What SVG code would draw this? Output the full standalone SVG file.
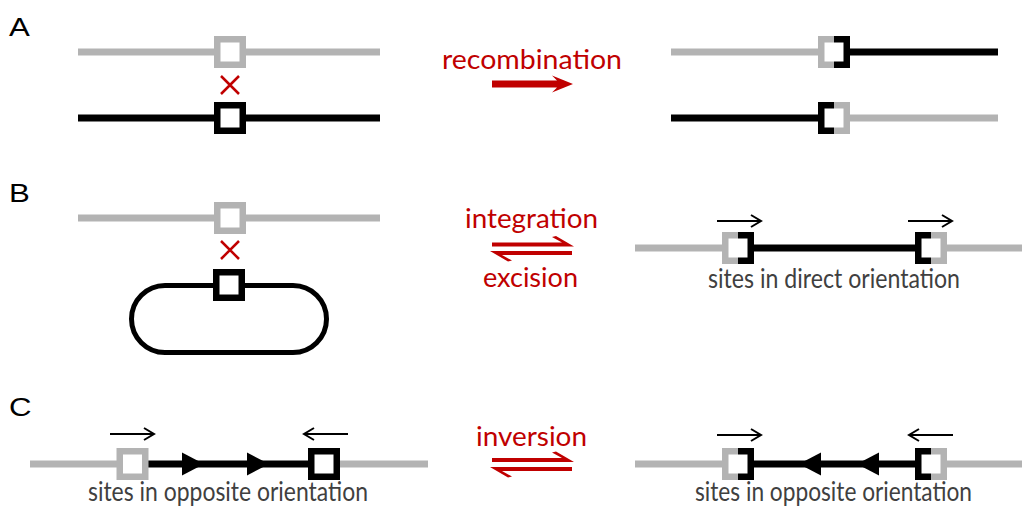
<svg xmlns="http://www.w3.org/2000/svg" width="1022" height="508" viewBox="0 0 1022 508">
<style>
.g{stroke:#b3b3b3;fill:none}
.k{stroke:#000;fill:none}
.ln{stroke-width:7}
.bx{stroke-width:6.5;fill:#fff}
.br{stroke-width:6.5;fill:none;stroke-linejoin:miter;stroke-linecap:butt}
.wf{fill:#fff;stroke:none}
.red{fill:#c00000}
.rt{font-family:Lato,"Open Sans",sans-serif;font-size:27px;fill:#c00000;text-anchor:middle}
.gt{font-family:Lato,"Open Sans",sans-serif;font-size:26px;fill:#404040;text-anchor:middle}
.lab{font-family:"Liberation Sans",Arial,sans-serif;font-size:26px;fill:#000}
.x{stroke:#c00000;stroke-width:2.5;fill:none}
.thin{stroke:#000;stroke-width:2;fill:none;stroke-linecap:butt}
</style>
<!-- Panel labels -->
<text class="lab" transform="translate(9,36) scale(1.2,1)">A</text>
<text class="lab" transform="translate(9,202) scale(1.2,1)">B</text>
<text class="lab" transform="translate(9,416) scale(1.2,1)">C</text>

<!-- Panel A left -->
<g id="A-gray-site">
<line class="g ln" x1="78" y1="52" x2="380" y2="52"/>
<rect class="g bx" x="217.25" y="39.25" width="25.5" height="25.5"/>
</g>
<g id="A-cross"><path class="x" d="M221,76 L239,94 M239,76 L221,94"/></g>
<g id="A-black-site">
<line class="k ln" x1="78" y1="118" x2="380" y2="118"/>
<rect class="k bx" x="217.25" y="105.25" width="25.5" height="25.5"/>
</g>

<!-- Panel A middle -->
<g id="A-arrow">
<text class="rt" x="532" y="69" textLength="180" lengthAdjust="spacingAndGlyphs">recombination</text>
<path class="red" d="M492,80.5 H557 L552,75.5 L573,84 L552,92.5 L557,87.5 H492 Z"/>
</g>

<!-- Panel A right -->
<g id="A-right-top">
<line class="g ln" x1="671" y1="52" x2="834" y2="52"/>
<line class="k ln" x1="834" y1="52" x2="998" y2="52"/>
<rect class="wf" x="821" y="39" width="26" height="26"/>
<path class="g br" d="M834,39.25 H821.25 V64.75 H834"/>
<path class="k br" d="M834,39.25 H846.75 V64.75 H834"/>
</g>
<g id="A-right-bottom">
<line class="k ln" x1="671" y1="118" x2="834" y2="118"/>
<line class="g ln" x1="834" y1="118" x2="998" y2="118"/>
<rect class="wf" x="821" y="105" width="26" height="26"/>
<path class="k br" d="M834,105.25 H821.25 V130.75 H834"/>
<path class="g br" d="M834,105.25 H846.75 V130.75 H834"/>
</g>

<!-- Panel B left -->
<g id="B-gray-site">
<line class="g ln" x1="78" y1="218" x2="380" y2="218"/>
<rect class="g bx" x="217.25" y="205.25" width="25.5" height="25.5"/>
</g>
<g id="B-cross"><path class="x" d="M221,241 L239,259 M239,241 L221,259"/></g>
<g id="B-plasmid">
<rect x="131.5" y="285.5" width="195" height="67" rx="33.5" ry="33.5" fill="none" stroke="#000" stroke-width="5"/>
<rect class="k bx" x="216.25" y="272.25" width="25.5" height="25.5"/>
</g>

<!-- Panel B middle -->
<g id="B-arrows">
<text class="rt" x="531.5" y="228" textLength="133" lengthAdjust="spacingAndGlyphs">integration</text>
<text class="rt" x="530.5" y="287" textLength="95" lengthAdjust="spacingAndGlyphs">excision</text>
<path class="red" d="M492,242.5 H562 L552,237 L556,236 L574,246.5 H492 Z"/>
<path class="red" d="M572,255 H502 L512,260.5 L508,261.5 L490,251 H572 Z"/>
</g>

<!-- Panel B right -->
<g id="B-right">
<line class="g ln" x1="635" y1="248" x2="738" y2="248"/>
<line class="k ln" x1="738" y1="248" x2="931" y2="248"/>
<line class="g ln" x1="931" y1="248" x2="1022" y2="248"/>
<rect class="wf" x="725" y="235" width="26" height="26"/>
<path class="g br" d="M738,235.25 H725.25 V260.75 H738"/>
<path class="k br" d="M738,235.25 H750.75 V260.75 H738"/>
<rect class="wf" x="918" y="235" width="26" height="26"/>
<path class="k br" d="M931,235.25 H918.25 V260.75 H931"/>
<path class="g br" d="M931,235.25 H943.75 V260.75 H931"/>
<path class="thin" d="M717,221 H761 M751,215 L761,221 L751,227"/>
<path class="thin" d="M908,221 H952 M942,215 L952,221 L942,227"/>
<text class="gt" x="834" y="288" textLength="252" lengthAdjust="spacingAndGlyphs">sites in direct orientation</text>
</g>

<!-- Panel C left -->
<g id="C-left">
<line class="g ln" x1="30" y1="464" x2="132" y2="464"/>
<line class="k ln" x1="132" y1="464" x2="324" y2="464"/>
<line class="g ln" x1="324" y1="464" x2="428" y2="464"/>
<rect class="g bx" x="119.75" y="451.25" width="25.5" height="25.5"/>
<rect class="k bx" x="311.25" y="451.25" width="25.5" height="25.5"/>
<polygon fill="#000" points="182,452.5 204,464 182,475.5"/>
<polygon fill="#000" points="247,452.5 269,464 247,475.5"/>
<path class="thin" d="M110,434 H154 M144,428 L154,434 L144,440"/>
<path class="thin" d="M348,434 H304 M314,428 L304,434 L314,440"/>
<text class="gt" x="228" y="501" textLength="280" lengthAdjust="spacingAndGlyphs">sites in opposite orientation</text>
</g>

<!-- Panel C middle -->
<g id="C-arrows">
<text class="rt" x="531.5" y="446" textLength="111" lengthAdjust="spacingAndGlyphs">inversion</text>
<path class="red" d="M492,458 H562 L552,452.5 L556,451.5 L574,462 H492 Z"/>
<path class="red" d="M572,471 H502 L512,476.5 L508,477.5 L490,467 H572 Z"/>
</g>

<!-- Panel C right -->
<g id="C-right">
<line class="g ln" x1="635" y1="464" x2="738" y2="464"/>
<line class="k ln" x1="738" y1="464" x2="931" y2="464"/>
<line class="g ln" x1="931" y1="464" x2="1022" y2="464"/>
<rect class="wf" x="725" y="451" width="26" height="26"/>
<path class="g br" d="M738,451.25 H725.25 V476.75 H738"/>
<path class="k br" d="M738,451.25 H750.75 V476.75 H738"/>
<rect class="wf" x="918" y="451" width="26" height="26"/>
<path class="k br" d="M931,451.25 H918.25 V476.75 H931"/>
<path class="g br" d="M931,451.25 H943.75 V476.75 H931"/>
<polygon fill="#000" points="799,464 821,452.5 821,475.5"/>
<polygon fill="#000" points="857,464 879,452.5 879,475.5"/>
<path class="thin" d="M717,435 H761 M751,429 L761,435 L751,441"/>
<path class="thin" d="M953,435 H909 M919,429 L909,435 L919,441"/>
<text class="gt" x="833.5" y="501" textLength="277" lengthAdjust="spacingAndGlyphs">sites in opposite orientation</text>
</g>
</svg>
